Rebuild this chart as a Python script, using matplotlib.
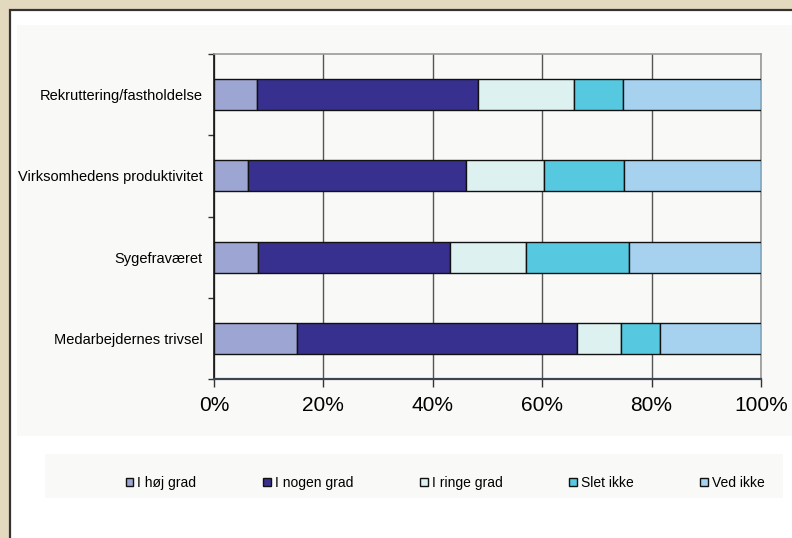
"""Stacked 100% bar chart: effect of initiatives by area."""

import matplotlib.pyplot as plt
import numpy as np
from matplotlib.patches import Rectangle

plt.rcParams["font.family"] = ["Liberation Sans", "DejaVu Sans"]

CATEGORIES = [
    "Rekruttering/fastholdelse",
    "Virksomhedens produktivitet",
    "Sygefraværet",
    "Medarbejdernes trivsel",
]
SERIES = ["I høj grad", "I nogen grad", "I ringe grad", "Slet ikke", "Ved ikke"]
HOJ_GRAD = [7.8, 6.3, 8.1, 15.2]
NOGEN_GRAD = [40.5, 39.7, 35.0, 51.1]
RINGE_GRAD = [17.6, 14.3, 14.0, 8.1]
SLET_IKKE = [8.8, 14.7, 18.8, 7.1]
VED_IKKE = [25.3, 25.0, 24.1, 18.5]
X_TICKS = [0, 20, 40, 60, 80, 100]
X_LABELS = ["0%", "20%", "40%", "60%", "80%", "100%"]

COLORS = ["#9DA5D3", "#37308F", "#DDF1F1", "#56C8E0", "#A6D2F0"]
W, H = 792, 538


def main() -> None:
    fig = plt.figure(figsize=(W / 100, H / 100), dpi=100, facecolor="#E2D9BF")

    # white panel (border only shows on left/top), grey plot area, legend strip
    fig.add_artist(Rectangle((10 / W, -0.1), 1.2, 1.1 - 10 / H, transform=fig.transFigure,
                             facecolor="white", edgecolor="#333333", lw=1.6, zorder=-3))
    fig.add_artist(Rectangle((17 / W, 1 - 436 / H), 1, (436 - 25) / H, transform=fig.transFigure,
                             facecolor="#F9F9F7", edgecolor="none", zorder=-2))
    fig.add_artist(Rectangle((45 / W, 1 - 498 / H), (783 - 45) / W, 44 / H,
                             transform=fig.transFigure,
                             facecolor="#F9F9F7", edgecolor="none", zorder=-2))

    ax = fig.add_axes([214 / W, 1 - 379 / H, (761 - 214) / W, (379 - 54) / H])
    ax.set_facecolor("#F9F9F7")

    y = np.arange(len(CATEGORIES))
    data = [HOJ_GRAD, NOGEN_GRAD, RINGE_GRAD, SLET_IKKE, VED_IKKE]
    left = np.zeros(len(CATEGORIES))
    handles = []
    for name, vals, color in zip(SERIES, data, COLORS):
        vals = np.array(vals)
        bars = ax.barh(y, vals, left=left, height=0.38, color=color,
                       edgecolor="#111111", linewidth=1.0, label=name, zorder=3)
        handles.append(bars)
        left += vals

    ax.set_xlim(0, 100)
    ax.set_ylim(len(CATEGORIES) - 0.5, -0.5)
    ax.set_xticks(X_TICKS)
    ax.set_xticklabels(X_LABELS, fontsize=15)
    ax.tick_params(axis="x", length=6, width=1, color="#333333", pad=6)
    ax.set_yticks(y)
    ax.set_yticklabels(CATEGORIES, fontsize=10.5)
    ax.tick_params(axis="y", which="major", length=0, pad=8)
    ax.set_yticks(np.arange(-0.5, len(CATEGORIES)), minor=True)
    ax.tick_params(axis="y", which="minor", length=4, width=1, color="#333333")

    ax.grid(axis="x", color="#555555", linewidth=1.0, zorder=1)
    ax.set_axisbelow(True)
    for side in ("top", "right"):
        ax.spines[side].set_color("#999999")
        ax.spines[side].set_linewidth(1.2)
    ax.spines["left"].set_color("#111111")
    ax.spines["left"].set_linewidth(1.2)
    ax.spines["bottom"].set_color("#3C4650")
    ax.spines["bottom"].set_linewidth(1.6)

    fig.legend(handles=handles, labels=SERIES, ncol=5, frameon=False, fontsize=10,
               loc="center left", bbox_to_anchor=(120 / W, 1 - 483 / H),
               handlelength=0.55, handleheight=0.55, handletextpad=0.3,
               columnspacing=4.8, borderaxespad=0)

    fig.savefig("out.png", dpi=100, facecolor=fig.get_facecolor())
    plt.close(fig)


if __name__ == "__main__":
    main()
